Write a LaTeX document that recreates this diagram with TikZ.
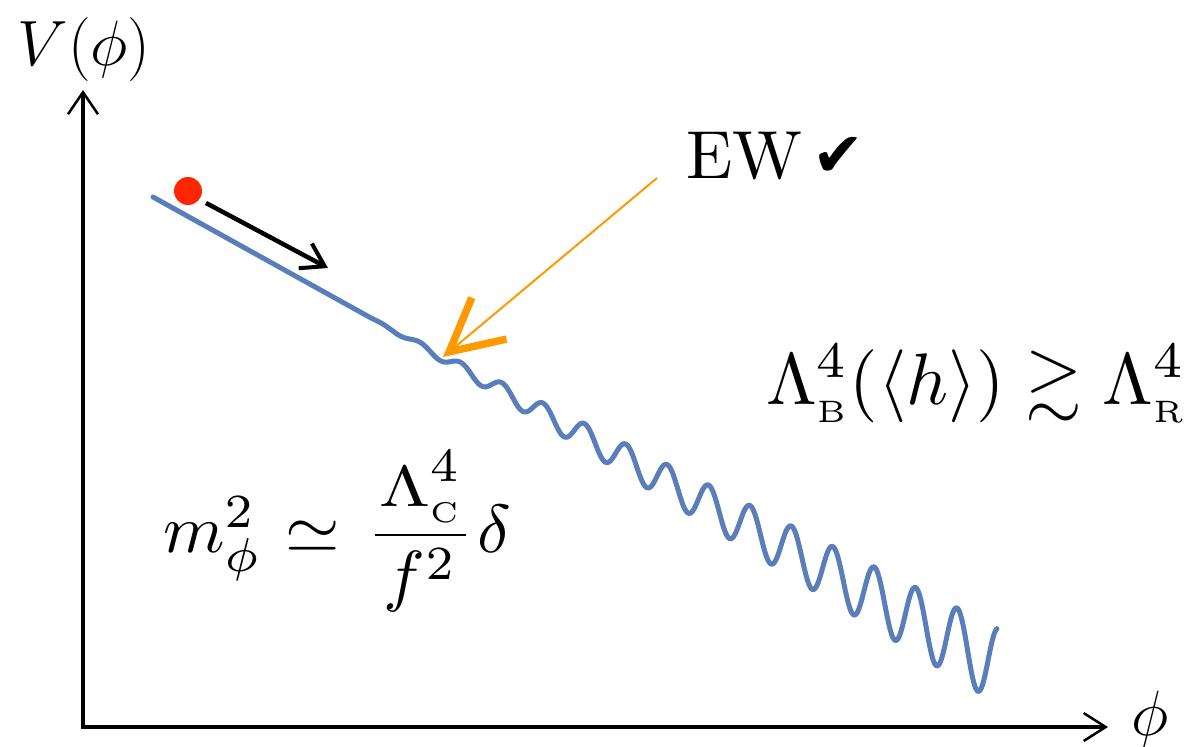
\RequirePackage{fix-cm}
\documentclass[tikz,border=0pt]{standalone}
\usepackage{amsmath,amssymb}
\usepackage{graphicx}
\usepackage{fontspec}
\newfontfamily\chkfont{DejaVu Sans}
\usetikzlibrary{arrows.meta}
\newcommand{\tinysub}[2]{\scalebox{#1}{$\scriptscriptstyle\mathrm{#2}$}}
\definecolor{curveblue}{RGB}{89,126,186}
\definecolor{ballred}{RGB}{255,38,0}
\definecolor{eworange}{RGB}{255,153,0}
\begin{document}
\begin{tikzpicture}[x=1pt,y=-1pt,
  axisline/.style={line width=3.5pt,
    {Straight Barb[length=22pt,width=30pt,line width=2.5pt]}-{Straight Barb[length=22pt,width=28pt,line width=2.5pt]}},
  rollarrow/.style={line width=4.5pt,-{Straight Barb[length=22pt,width=28pt,line width=4pt]}},
  ewarrow/.style={eworange,line width=2pt,-{Straight Barb[length=52pt,width=54pt,line width=7.5pt]}},
  curve/.style={curveblue,line width=5pt,line join=round,line cap=round},
  lbl/.style={inner sep=0pt,font=\fontsize{64}{70}\selectfont},
  formula/.style={inner sep=0pt,anchor=base west},
]
\useasboundingbox (0,0) rectangle (1192,747);

% axes
\coordinate (O) at (83,727);
\coordinate (ytip) at (83,90);
\coordinate (xtip) at (1108,727);
\draw[axisline] (ytip) -- (O) -- (xtip);
\node[lbl,anchor=base] (vlab) at (84,65) {$V(\phi)$};
\node[lbl,anchor=base] (philab) at (1150,735) {$\phi$};

% potential
\draw[curve] plot[domain=153:997,samples=900]
  (\x,{197+0.555*(\x-153)-0.06*max(\x-370,0)*cos(8.6957*(\x-750))});

% ball and rolling arrow
\node[circle,fill=ballred,minimum size=28pt,inner sep=0pt] (ball) at (188,191) {};
\coordinate (rollA) at (206,203);
\coordinate (rollB) at (328,268);
\draw[rollarrow] (rollA) -- (rollB);

% EW
\node[formula] (ew) at (686,178) {\scalebox{6.8}{EW}};
\node[formula,font=\fontsize{62}{70}\selectfont\chkfont] (check) at (812,176) {✔};
\coordinate (ewA) at (657,178);
\coordinate (ewB) at (443,357);
\draw[ewarrow] (ewA) -- (ewB);

% formulas
\node[formula] (barrier) at (766,404)
  {\scalebox{7.3}{$\Lambda^4_{\tinysub{0.85}{B}}(\langle h\rangle)\gtrsim\Lambda^4_{\tinysub{0.85}{R}}$}};
\node[formula] (mass) at (163,552)
  {\scalebox{7.0}[6.8]{$m^2_\phi\mkern1mu\simeq\mkern2mu\dfrac{\mkern1mu{\scalebox{1.05}[0.85]{$\Lambda$}}^4_{\tinysub{0.84}{C}}\mkern1mu}{f^2}\mkern1mu\delta$}};
\end{tikzpicture}
\end{document}
